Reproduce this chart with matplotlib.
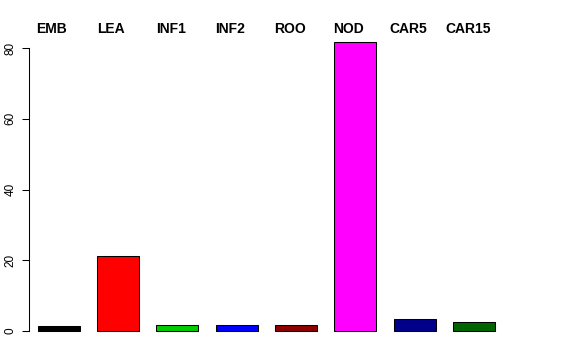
import numpy as np
import matplotlib
matplotlib.use("Agg")
import matplotlib.pyplot as plt
from matplotlib.transforms import blended_transform_factory

plt.rcParams['font.family'] = ['Liberation Sans', 'DejaVu Sans']

# tissue categories and values
tissues = ["EMB", "LEA", "INF1", "INF2", "ROO", "NOD", "CAR5", "CAR15"]
values = [1.3, 21.3, 1.7, 1.7, 1.7, 81.7, 3.3, 2.5]
colors = ["black", "red", "#00CD00", "blue", "#8B0000", "magenta", "#00008B", "#006400"]
yticks = [0, 20, 40, 60, 80]

fig = plt.figure(figsize=(5.76, 3.6), dpi=100)
ax = fig.add_axes([29 / 576, 17.4 / 360, 474.8 / 576, 312.2 / 360])

x = np.arange(len(tissues))
ax.bar(x, values, width=0.707, color=colors, edgecolor="black", linewidth=0.75)

ax.set_xlim(-0.497, len(tissues) - 1 + 0.497)
ax.set_ylim(-3.27, 84.97)

for s in ["top", "right", "bottom"]:
    ax.spines[s].set_visible(False)
ax.spines["left"].set_bounds(0, 80)
ax.spines["left"].set_linewidth(0.75)
ax.set_xticks([])
ax.set_yticks(yticks)
ax.set_yticklabels([str(t) for t in yticks], rotation=90, va="center", fontsize=8.5)
ax.tick_params(axis="y", length=5, width=0.75, pad=4)

# bold tissue labels along the top
trans = blended_transform_factory(ax.transData, fig.transFigure)
for i, name in enumerate(tissues):
    ax.text(i - 0.11, (360 - 29) / 360, name, transform=trans,
            ha="center", va="center", fontsize=10, fontweight="bold")

fig.savefig("out.png", dpi=100)
